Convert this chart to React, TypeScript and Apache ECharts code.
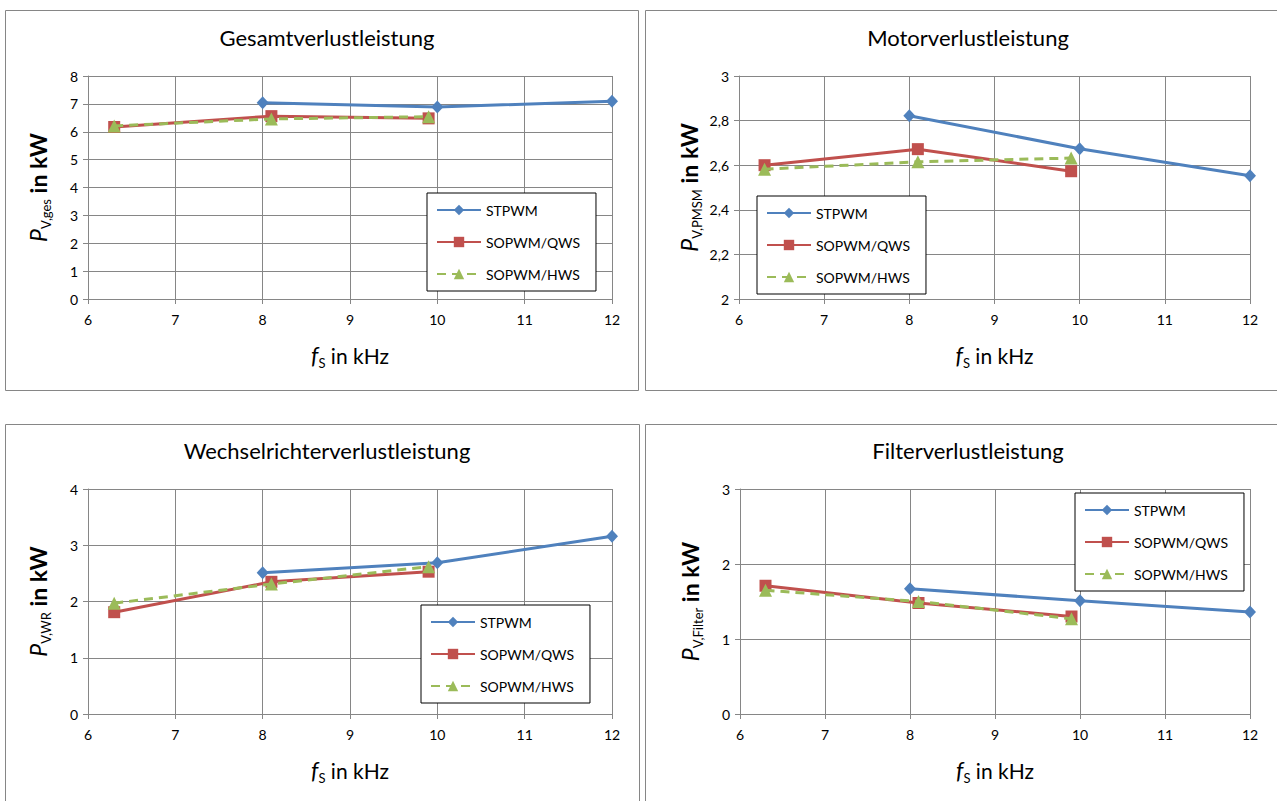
import React, { useEffect, useRef } from "react";
import * as echarts from "echarts";

// Switching frequency in kHz for each modulation method
const freqSTPWM = [8, 10, 12];
const freqSOPWM = [6.3, 8.1, 9.9];

// Total losses in kW
const gesSTPWM = [7.04, 6.89, 7.09];
const gesQWS = [6.17, 6.56, 6.48];
const gesHWS = [6.21, 6.46, 6.54];

// Motor losses in kW
const motSTPWM = [2.822, 2.674, 2.553];
const motQWS = [2.6, 2.672, 2.573];
const motHWS = [2.582, 2.615, 2.632];

// Inverter losses in kW
const wrSTPWM = [2.51, 2.69, 3.16];
const wrQWS = [1.81, 2.35, 2.53];
const wrHWS = [1.97, 2.31, 2.62];

// Filter losses in kW
const filSTPWM = [1.67, 1.51, 1.36];
const filQWS = [1.71, 1.48, 1.3];
const filHWS = [1.65, 1.5, 1.27];

const seriesNames = ["STPWM", "SOPWM/QWS", "SOPWM/HWS"];
const panelTitles = [
  "Gesamtverlustleistung",
  "Motorverlustleistung",
  "Wechselrichterverlustleistung",
  "Filterverlustleistung",
];
const ySubscripts = ["V,ges", "V,PMSM", "V,WR", "V,Filter"];
const yMin = [0, 2, 0, 0];
const yMax = [8, 3, 4, 3];
const yStep = [1, 0.2, 1, 1];

const FONT = "Lato, 'Open Sans', sans-serif";
const BLUE = "#4F81BD";
const RED = "#C0504D";
const GREEN = "#9BBB59";
const GRID = "#868686";

const grids = [
  { left: 88, top: 76, width: 524, height: 223 },
  { left: 739, top: 76, width: 511, height: 223 },
  { left: 88, top: 489, width: 524, height: 225 },
  { left: 740, top: 489, width: 510, height: 225 },
];
const titleCenters = [
  [322, 21],
  [963, 21],
  [322, 434],
  [963, 434],
];
const legendPos = [
  [427, 193],
  [757, 196],
  [421, 605],
  [1075, 493],
];
const frames = [
  { x: 5.5, y: 10.5, width: 633, height: 380 },
  { x: 645.5, y: 10.5, width: 640, height: 380 },
  { x: 5.5, y: 424.5, width: 634, height: 400 },
  { x: 645.5, y: 424.5, width: 640, height: 400 },
];

const zip = (xs: number[], ys: number[]) => xs.map((x, i) => [x, ys[i]]);

export default function App() {
  const ref = useRef<HTMLDivElement>(null);

  useEffect(() => {
    if (!ref.current) return;
    const chart = echarts.init(ref.current, undefined, { renderer: "svg" });

    const panelData = [
      [gesSTPWM, gesQWS, gesHWS],
      [motSTPWM, motQWS, motHWS],
      [wrSTPWM, wrQWS, wrHWS],
      [filSTPWM, filQWS, filHWS],
    ];

    const rich = {
      i: { fontStyle: "italic", fontSize: 23, fontFamily: FONT, color: "#000", lineHeight: 28 },
      s: { fontSize: 13, fontFamily: FONT, color: "#000", lineHeight: 12, verticalAlign: "bottom" },
      n: { fontSize: 21, fontFamily: FONT, color: "#000", lineHeight: 28 },
      b: { fontSize: 23, fontFamily: FONT, color: "#000", lineHeight: 28, fontWeight: "bold" },
    };

    const series: any[] = [];
    panelData.forEach((vals, p) => {
      series.push({
        name: seriesNames[0],
        type: "line",
        xAxisIndex: p,
        yAxisIndex: p,
        data: zip(freqSTPWM, vals[0]),
        symbol: "diamond",
        symbolSize: [12, 13],
        lineStyle: { color: BLUE, width: 3 },
        itemStyle: { color: BLUE },
        z: 2,
      });
      series.push({
        name: seriesNames[1],
        type: "line",
        xAxisIndex: p,
        yAxisIndex: p,
        data: zip(freqSOPWM, vals[1]),
        symbol: "rect",
        symbolSize: 12,
        lineStyle: { color: RED, width: 3 },
        itemStyle: { color: RED },
        z: 3,
      });
      series.push({
        name: seriesNames[2],
        type: "line",
        xAxisIndex: p,
        yAxisIndex: p,
        data: zip(freqSOPWM, vals[2]),
        symbol: "triangle",
        symbolSize: 13,
        lineStyle: { color: GREEN, width: 3, type: [9, 6] },
        itemStyle: { color: GREEN },
        z: 4,
      });
    });

    const option: any = {
      animation: false,
      backgroundColor: "#fff",
      title: panelTitles.map((t, p) => ({
        text: t,
        left: titleCenters[p][0],
        top: titleCenters[p][1],
        textAlign: "center",
        textStyle: { fontFamily: FONT, fontSize: 22, fontWeight: "normal", color: "#000" },
      })),
      grid: grids.map((g) => ({ ...g })),
      xAxis: grids.map((_, p) => ({
        type: "value",
        gridIndex: p,
        min: 6,
        max: 12,
        interval: 1,
        name: "{i|f}{s|S}{n| in kHz}",
        nameLocation: "middle",
        nameGap: 42,
        nameTextStyle: { rich },
        axisLine: { show: true, onZero: false, lineStyle: { color: GRID, width: 1 } },
        axisTick: { show: true, length: 5, lineStyle: { color: GRID } },
        splitLine: { show: true, lineStyle: { color: GRID, width: 1 } },
        axisLabel: {
          fontFamily: FONT,
          fontSize: 14,
          color: "#000",
          margin: 13,
          showMinLabel: true,
          showMaxLabel: true,
        },
      })),
      yAxis: grids.map((_, p) => ({
        type: "value",
        gridIndex: p,
        min: yMin[p],
        max: yMax[p],
        interval: yStep[p],
        name: `{i|P}{s|${ySubscripts[p]}}{b| in kW}`,
        nameLocation: "middle",
        nameRotate: 90,
        nameGap: 36,
        nameTextStyle: { rich },
        axisLine: { show: true, lineStyle: { color: GRID, width: 1 } },
        axisTick: { show: true, length: 5, lineStyle: { color: GRID } },
        splitLine: { show: true, lineStyle: { color: GRID, width: 1 } },
        axisLabel: {
          fontFamily: FONT,
          fontSize: 14,
          color: "#000",
          margin: 10,
          showMinLabel: true,
          showMaxLabel: true,
          formatter: (v: number) =>
            String(Math.round(v * 10) / 10).replace(".", ","),
        },
      })),
      legend: legendPos.map((pos) => ({
        data: seriesNames,
        left: pos[0],
        top: pos[1],
        orient: "vertical",
        backgroundColor: "#fff",
        borderColor: "#000",
        borderWidth: 1,
        borderRadius: 0,
        padding: [10, 16, 10, 9],
        itemWidth: 44,
        itemHeight: 13,
        itemGap: 18,
        selectedMode: false,
        textStyle: { fontFamily: FONT, fontSize: 14, color: "#000" },
      })),
      graphic: frames.map((f) => ({
        type: "rect",
        shape: f,
        style: { fill: "none", stroke: GRID, lineWidth: 1 },
        z: -1,
        silent: true,
      })),
      series,
    };

    chart.setOption(option);
    return () => chart.dispose();
  }, []);

  return (
    <div
      ref={ref}
      style={{ position: "fixed", left: 0, top: 0, width: 1277, height: 801, background: "#fff" }}
    />
  );
}
